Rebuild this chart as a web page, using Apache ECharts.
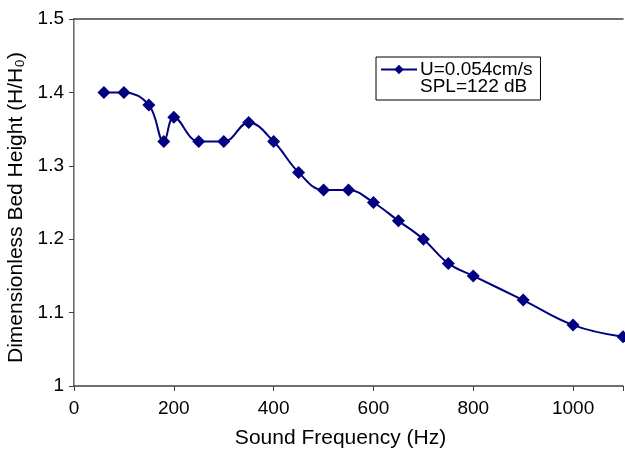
<!DOCTYPE html>
<html>
<head>
<meta charset="utf-8">
<script src="https://cdn.jsdelivr.net/npm/echarts@6/dist/echarts.min.js"></script>
<style>
html, body { margin: 0; padding: 0; background: #fff; }
#chart { width: 625px; height: 450px; }
</style>
</head>
<body>
<div id="chart"></div>
<script>
// frequency (Hz) and dimensionless bed height
var freqs = [60, 100, 150, 180, 200, 250, 300, 350, 400, 450, 500, 550, 600, 650, 700, 750, 800, 900, 1000, 1100];
var heights = [1.400, 1.400, 1.383, 1.333, 1.366, 1.333, 1.333, 1.359, 1.333, 1.291, 1.267, 1.267, 1.250, 1.225, 1.200, 1.167, 1.150, 1.117, 1.083, 1.067];
var seriesName = 'U=0.054cm/s';
var legendLine2 = 'SPL=122 dB';

var points = [];
for (var i = 0; i < freqs.length; i++) {
	points.push([freqs[i], heights[i]]);
}

var font = 'Liberation Sans, Arial, sans-serif';
var axisColor = '#404040';

var myChart = echarts.init(document.getElementById('chart'));
var option = {
	animation: false,
	backgroundColor: '#fff',
	grid: { left: 74, right: 2, top: 19, bottom: 64, outerBoundsMode: 'none' },
	legend: {
		left: 376,
		top: 57,
		orient: 'vertical',
		padding: [3, 8, 21, 4],
		borderColor: '#000',
		borderWidth: 1,
		borderRadius: 0,
		itemWidth: 36,
		itemHeight: 12,
		itemGap: 0,
		textStyle: { fontFamily: font, fontSize: 19, color: '#000', padding: [0, 0, 0, -2] },
		data: [seriesName]
	},
	graphic: [{
		type: 'text',
		left: 420,
		top: 77,
		style: { text: legendLine2, fontFamily: font, fontSize: 19, fill: '#000' }
	}],
	xAxis: [{
		type: 'value',
		min: 0,
		max: 1100,
		interval: 200,
		name: 'Sound Frequency (Hz)',
		nameLocation: 'middle',
		nameGap: 42,
		nameTextStyle: { fontFamily: font, fontSize: 21, color: '#000', padding: [0, 16, 0, 0] },
		axisLine: { lineStyle: { color: axisColor, width: 1.5 } },
		axisTick: { show: true, inside: false, length: 5, lineStyle: { color: axisColor } },
		axisLabel: {
			fontFamily: font, fontSize: 19, color: '#000', margin: 13,
			formatter: function(v) { return v % 200 === 0 ? String(v) : ''; }
		},
		splitLine: { show: false }
	}, {
		type: 'value',
		position: 'top',
		min: 0,
		max: 1100,
		axisLine: { show: true, lineStyle: { color: axisColor, width: 1.5 } },
		axisTick: { show: false },
		axisLabel: { show: false },
		splitLine: { show: false }
	}],
	yAxis: [{
		type: 'value',
		min: 1,
		max: 1.5,
		interval: 0.1,
		name: 'Dimensionless Bed Height (H/H\u2080)',
		nameLocation: 'middle',
		nameGap: 44,
		nameTextStyle: { fontFamily: font, fontSize: 21, color: '#000', padding: [0, 10, 0, 0] },
		axisLine: { show: true, lineStyle: { color: axisColor, width: 1.5 } },
		axisTick: { show: true, inside: false, length: 5, lineStyle: { color: axisColor } },
		axisLabel: {
			fontFamily: font, fontSize: 19, color: '#000', margin: 10,
			formatter: function(v) { return String(parseFloat(v.toFixed(1))); }
		},
		splitLine: { show: false }
	}, {
		type: 'value',
		position: 'right',
		min: 1,
		max: 1.5,
		axisLine: { show: true, lineStyle: { color: '#a6a6a6', width: 1 } },
		axisTick: { show: false },
		axisLabel: { show: false },
		splitLine: { show: false }
	}],
	series: [{
		name: seriesName,
		type: 'line',
		data: points,
		smooth: 0.4,
		symbol: 'diamond',
		symbolSize: 13,
		clip: false,
		itemStyle: { color: '#000080' },
		lineStyle: { color: '#000080', width: 2 }
	}]
};
myChart.setOption(option);
</script>
</body>
</html>
